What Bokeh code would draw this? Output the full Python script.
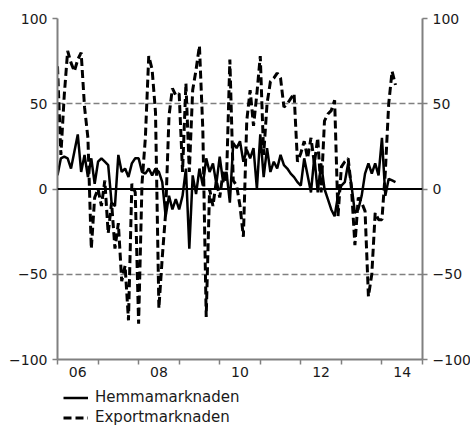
import pandas as pd
from bokeh.plotting import figure
from bokeh.layouts import column
from bokeh.models import (LinearAxis, FixedTicker, Range1d, Span, Legend,
                          LegendItem, ColumnDataSource)
from bokeh.embed import file_html
from bokeh.resources import INLINE

# Monthly data, Jan 2006 - May 2014
months = pd.period_range("2006-01", "2014-05", freq="M")

hemmamarknaden = [
    8, 18, 19, 18, 12, 22, 32, 10, 20, 7, 18, 3,
    16, 18, 16, 14, -8, -10, 20, 10, 12, 7, 15, 18,
    18, 10, 9, 12, 8, 12, 10, 4, -16, -4, -12, -6,
    -12, -4, 12, -35, 8, -3, 12, 2, 18, 10, 15, 3,
    19, 4, 10, -8, 27, 24, 28, 16, 23, 18, 24, 0,
    32, 7, 24, 10, 16, 12, 20, 14, 12, 9, 7, 4,
    2, 18, 8, -2, 19, -2, 15, 0, -6, -12, -16, -4,
    2, 4, 15, 2, -14, -12, -4, 9, 15, 9, 15, 8,
    30, -4, 6, 5, 4,
]

exportmarknaden = [
    72, 20, 55, 81, 74, 69, 76, 80, 48, 30, -35, -5,
    0, -10, 5, -26, -8, -35, -20, -54, -45, -77, 3, -2,
    -79, 3, 30, 78, 70, 45, -70, -40, -14, 43, 59, 55,
    56, 10, 62, 10, 58, 70, 84, 35, -75, 0, -10, 5,
    -5, 10, 5, 76, 5, 2, -10, -28, 40, 58, 37, 56,
    78, 20, 50, 63, 65, 68, 65, 48, 50, 53, 56, 16,
    21, 28, 18, 30, 15, 30, -2, 40, 44, 46, 52, -16,
    13, 16, 18, 0, -33, -5, -8, -13, -63, -50, -14, -18,
    -18, 10, 50, 69, 61,
]

series_names = ["Hemmamarknaden", "Exportmarknaden"]
y_ticks = [-100, -50, 0, 50, 100]
grid_levels = [-50, 50, 100]
year_labels = {2006.5: "06", 2008.5: "08", 2010.5: "10", 2012.5: "12", 2014.5: "14"}
year_bounds = list(range(2006, 2016))

x = [m.year + (m.month - 1) / 12 for m in months]
src = ColumnDataSource(dict(x=x, h=hemmamarknaden, e=exportmarknaden))

FONT = "DejaVu Sans"
TXT = "#1a1a1a"
GRAY = "#808080"
SOLID = dict(line_color="black", line_width=2.5)
DASHED = dict(line_color="black", line_width=3, line_dash="8 4")

p = figure(frame_width=365, frame_height=341,
           min_border_left=57, min_border_right=40,
           min_border_top=18, min_border_bottom=24,
           x_range=Range1d(2006, 2015), y_range=Range1d(-100, 100),
           output_backend="svg", toolbar_location=None,
           background_fill_color="white", border_fill_color="white")
p.outline_line_color = None
p.xgrid.visible = False
p.ygrid.ticker = FixedTicker(ticks=grid_levels)
p.ygrid.grid_line_color = GRAY
p.ygrid.grid_line_width = 1.5
p.ygrid.grid_line_dash = "6 3"


def style_y(ax):
    ax.ticker = FixedTicker(ticks=y_ticks)
    ax.axis_line_color = GRAY
    ax.axis_line_width = 2
    ax.major_tick_line_color = GRAY
    ax.major_tick_line_width = 1.5
    ax.major_tick_out = 5
    ax.major_tick_in = 0
    ax.minor_tick_line_color = None
    ax.major_label_standoff = 5
    ax.major_label_text_font = FONT
    ax.major_label_text_font_size = "14px"
    ax.major_label_text_color = TXT


style_y(p.yaxis[0])
ry = LinearAxis()
style_y(ry)
p.add_layout(ry, "right")

xa = p.xaxis[0]
xa.ticker = FixedTicker(ticks=list(year_labels.keys()), minor_ticks=year_bounds)
xa.major_label_overrides = year_labels
xa.major_tick_line_color = None
xa.major_tick_out = 5
xa.major_tick_in = 0
xa.minor_tick_line_color = GRAY
xa.minor_tick_line_width = 1.5
xa.minor_tick_out = 5
xa.minor_tick_in = 0
xa.axis_line_color = GRAY
xa.axis_line_width = 2
xa.major_label_standoff = 2
xa.major_label_text_font = FONT
xa.major_label_text_font_size = "14px"
xa.major_label_text_color = TXT

p.add_layout(Span(location=0, dimension="width", line_color="black", line_width=2))

p.line("x", "h", source=src, **SOLID)
p.line("x", "e", source=src, **DASHED)

# Legend strip below the chart (same line styles as the series)
nan = float("nan")
lg = figure(width=462, height=42, min_border=0,
            x_range=Range1d(0, 1), y_range=Range1d(0, 1),
            output_backend="svg", toolbar_location=None,
            x_axis_location=None, y_axis_location=None,
            background_fill_color="white", border_fill_color="white")
lg.outline_line_color = None
lg.grid.visible = False
k1 = lg.line(x=[nan, nan], y=[nan, nan], **SOLID)
k2 = lg.line(x=[nan, nan], y=[nan, nan], **DASHED)

legend = Legend(items=[LegendItem(label=series_names[0], renderers=[k1]),
                       LegendItem(label=series_names[1], renderers=[k2])],
                location=(6, -1))
legend.background_fill_alpha = 0
legend.border_line_color = None
legend.padding = 0
legend.margin = 0
legend.spacing = 2
legend.glyph_width = 25
legend.glyph_height = 17
legend.label_height = 17
legend.label_standoff = 7
legend.label_text_font = FONT
legend.label_text_font_size = "15px"
legend.label_text_color = TXT
lg.add_layout(legend, "center")

layout = column(p, lg, spacing=0)

open("out.html", "w").write(file_html(layout, INLINE))
